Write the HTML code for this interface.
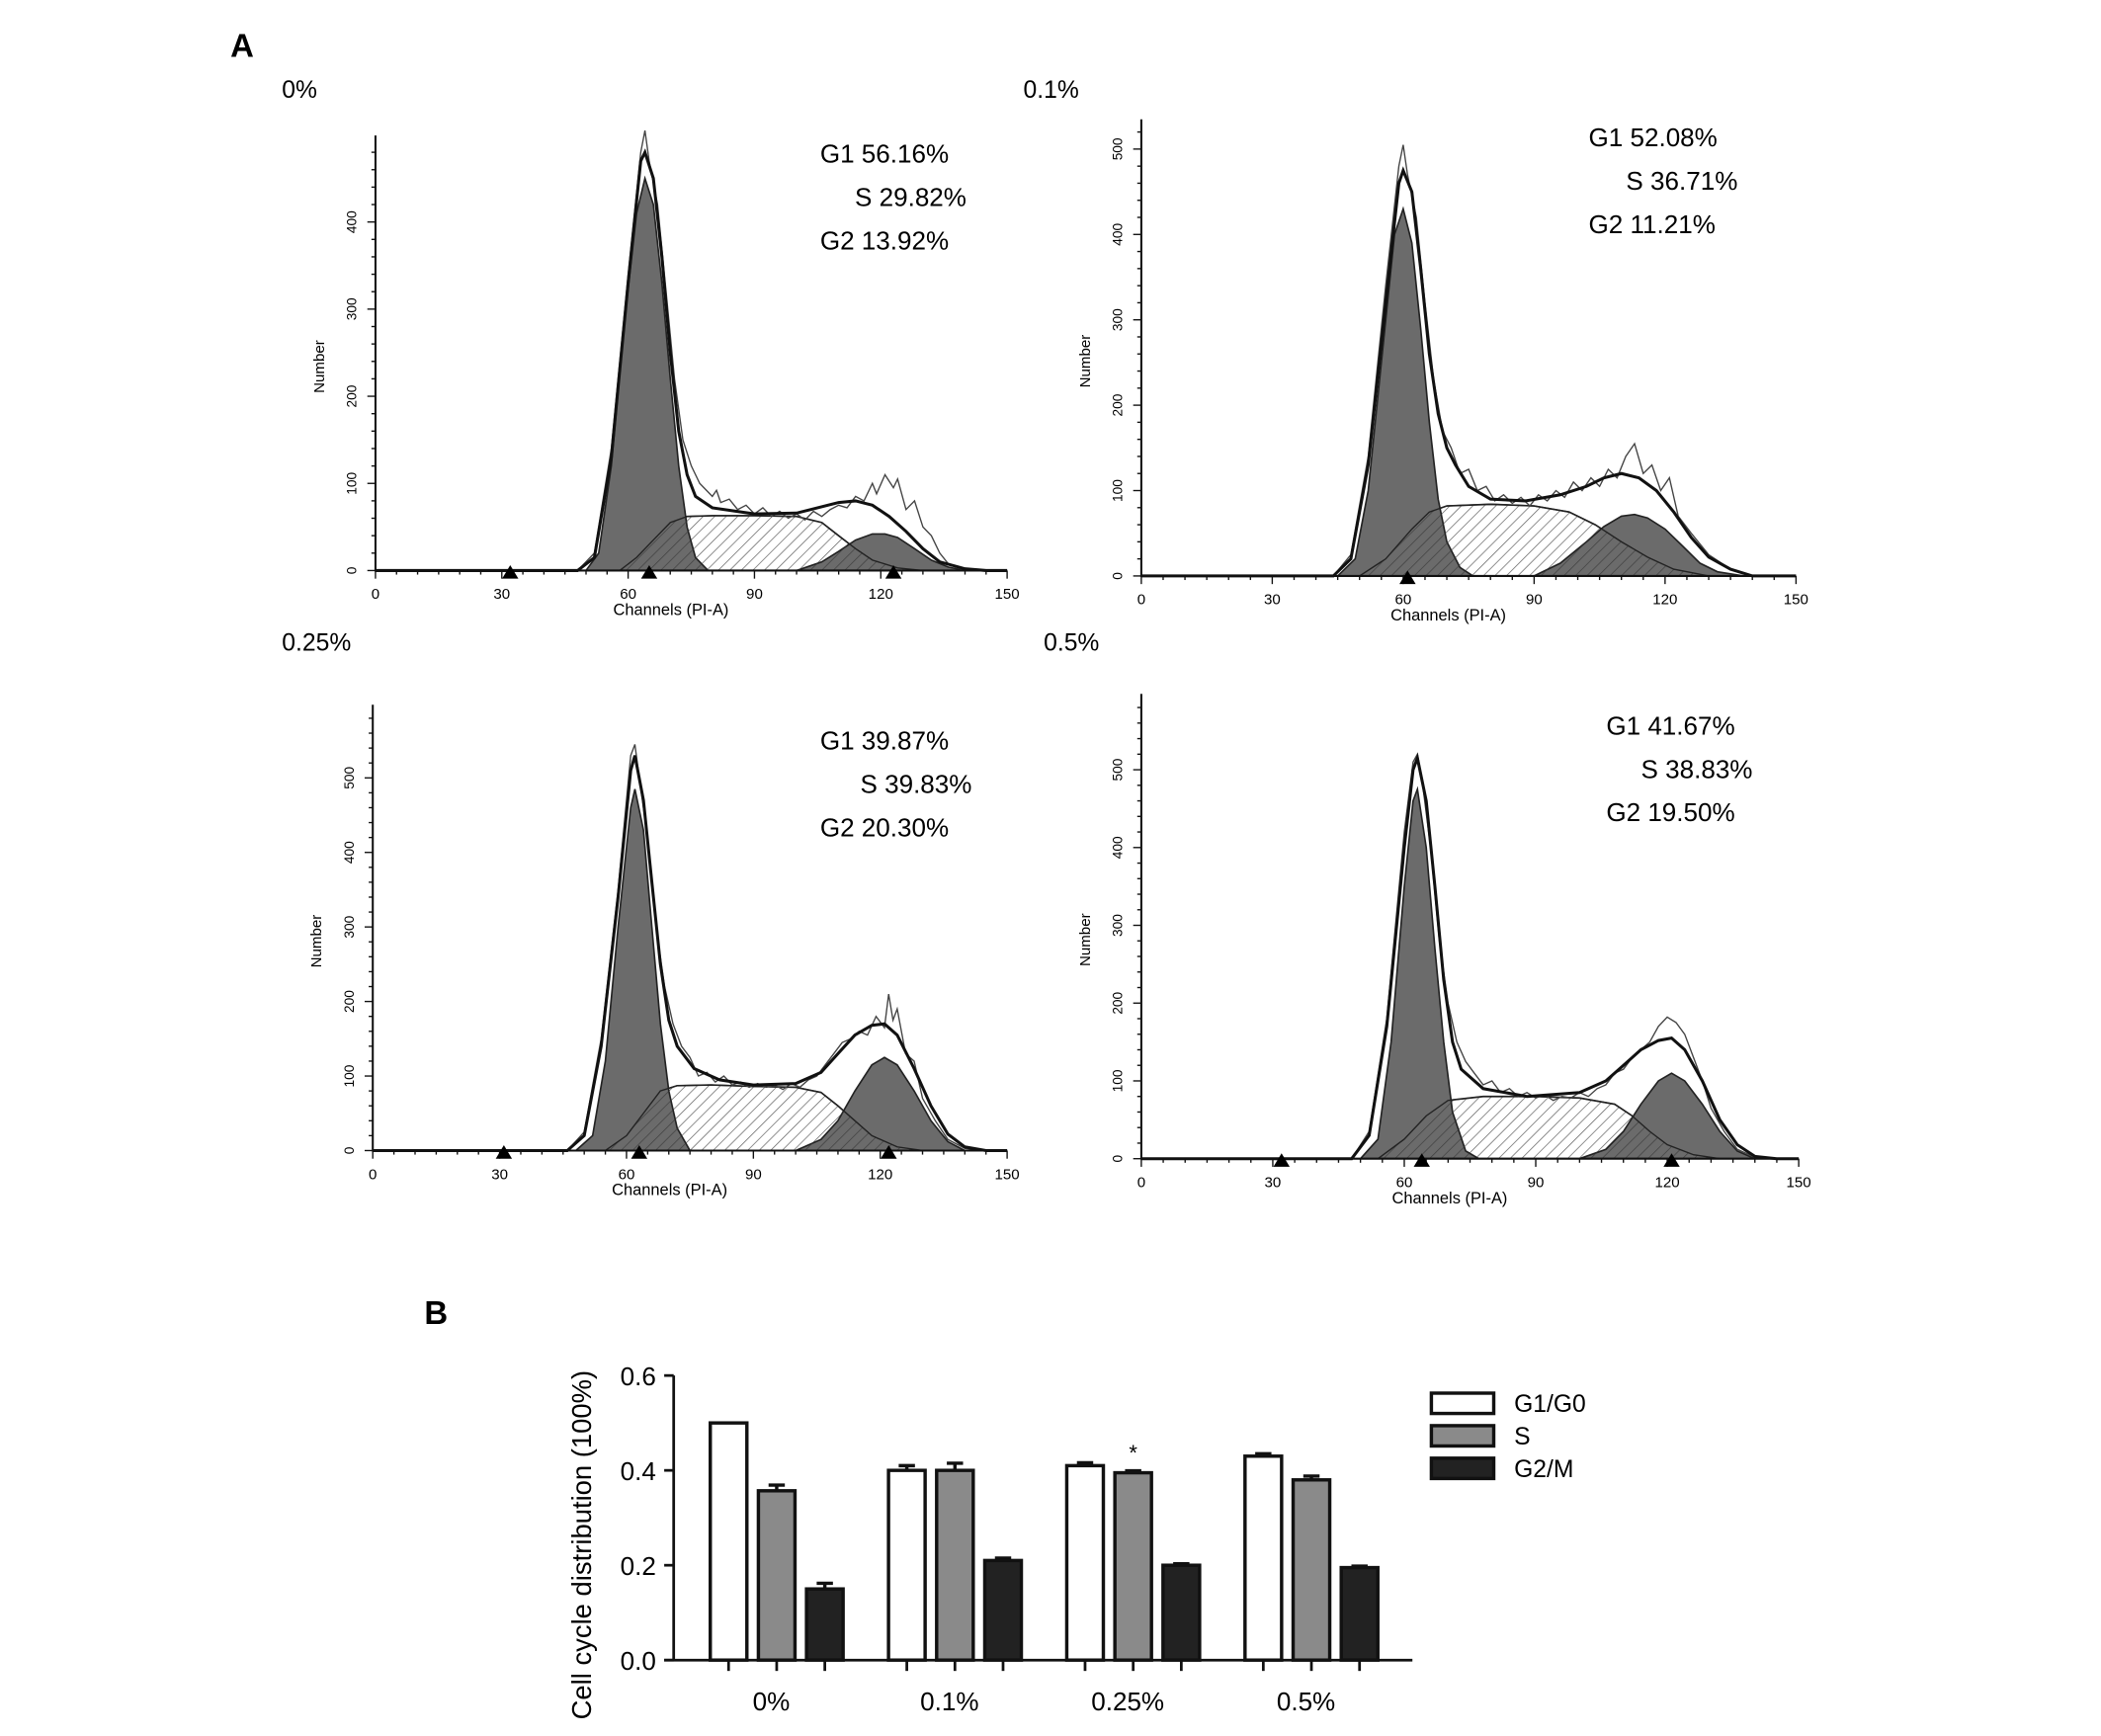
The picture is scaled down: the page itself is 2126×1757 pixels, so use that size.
<!DOCTYPE html>
<html><head><meta charset="utf-8">
<style>
html,body{margin:0;padding:0;background:#fff;}
svg{display:block;}
text{font-family:"Liberation Sans",sans-serif;}
</style></head>
<body>
<svg id="fig" width="2126" height="1757" viewBox="0 0 1550 1281" xmlns="http://www.w3.org/2000/svg">
<defs>
<pattern id="hatch" patternUnits="userSpaceOnUse" width="6" height="6" patternTransform="rotate(45)">
<line x1="0" y1="0" x2="0" y2="6" stroke="#333" stroke-width="1"/>
</pattern>
</defs>
<text x="170" y="42" font-family="Liberation Serif" font-weight="bold" font-size="24">A</text>
<text x="313" y="977" font-family="Liberation Serif" font-weight="bold" font-size="24">B</text>
<g id="hists"></g>
<g id="bars"></g>
</svg>
<script>
const NS='http://www.w3.org/2000/svg';
function mk(parent,tag,attrs,txt){const e=document.createElementNS(NS,tag);for(const k in attrs)e.setAttribute(k,attrs[k]);if(txt!==undefined)e.textContent=txt;parent.appendChild(e);return e;}

// ---------- Histogram data (channel, count) ----------
const panelTitles=['0%','0.1%','0.25%','0.5%'];
const g1Text=['G1 56.16%','G1 52.08%','G1  39.87%','G1 41.67%'];
const sText=['S  29.82%','S  36.71%','S  39.83%','S  38.83%'];
const g2Text=['G2 13.92%','G2 11.21%','G2  20.30%','G2 19.50%'];
const yTickMax=[400,500,500,500];
const markers=[[32,65,123],[61],[31,63,122],[32,64,121]];

const g1Pts=[
[[50,0],[53,20],[56,120],[59,280],[62,410],[64,450],[66,420],[68,330],[70,220],[72,120],[74,50],[76,15],[79,0]],
[[45,0],[49,20],[52,100],[55,250],[58,400],[60,430],[62,390],[64,290],[66,180],[68,90],[70,40],[73,10],[76,0]],
[[48,0],[52,20],[55,120],[58,300],[61,460],[62,485],[64,430],[66,300],[68,170],[70,80],[72,30],[75,0]],
[[50,0],[54,25],[57,150],[60,350],[62,460],[63,475],[65,400],[67,270],[69,150],[71,60],[74,10],[77,0]]];
const sPts=[
[[58,0],[62,15],[66,35],[70,55],[74,62],[80,63],[90,63],[100,62],[106,55],[110,40],[114,25],[118,12],[124,3],[130,0]],
[[50,0],[56,20],[62,55],[66,75],[70,82],[80,84],[90,82],[98,75],[104,60],[110,40],[116,22],[122,8],[130,0]],
[[55,0],[60,20],[64,50],[68,80],[72,87],[80,88],[90,86],[100,85],[106,78],[110,60],[114,40],[118,20],[124,5],[130,0]],
[[54,0],[60,25],[65,55],[70,75],[78,80],[90,80],[100,78],[108,70],[112,55],[116,35],[120,18],[126,5],[132,0]]];
const g2Pts=[
[[100,0],[106,10],[110,22],[114,35],[118,42],[121,42],[124,38],[128,25],[132,12],[136,4],[140,0]],
[[90,0],[96,15],[102,40],[106,58],[110,70],[113,72],[116,68],[120,55],[124,35],[128,15],[132,5],[138,0]],
[[100,0],[106,15],[110,40],[114,80],[118,115],[121,125],[124,115],[128,80],[132,40],[136,12],[140,0]],
[[100,0],[106,12],[110,35],[114,70],[118,100],[121,110],[124,100],[128,70],[132,35],[136,10],[140,0]]];
const fitPts=[
[[0,0],[48,0],[52,15],[56,130],[60,330],[63,470],[64,480],[66,450],[68,360],[70,250],[72,160],[74,110],[76,85],[80,72],[90,65],[100,66],[105,72],[110,78],[114,80],[118,75],[122,62],[126,45],[130,25],[134,10],[140,2],[145,0],[150,0]],
[[0,0],[44,0],[48,20],[52,130],[56,320],[59,460],[60,475],[62,450],[64,360],[66,260],[68,190],[70,150],[72,130],[75,105],[80,90],[88,88],[96,95],[102,105],[106,115],[110,120],[114,115],[118,100],[122,75],[126,45],[130,22],[135,8],[140,0],[150,0]],
[[0,0],[46,0],[50,20],[54,140],[58,340],[61,510],[62,530],[64,470],[66,360],[68,250],[70,175],[72,140],[76,110],[82,95],[90,88],[100,90],[106,105],[110,130],[114,155],[118,168],[121,170],[124,155],[128,110],[132,60],[136,22],[140,5],[145,0],[150,0]],
[[0,0],[48,0],[52,30],[56,170],[60,400],[62,500],[63,515],[65,460],[67,350],[69,230],[71,150],[73,115],[78,90],[88,80],[100,85],[106,100],[110,120],[114,140],[118,152],[121,155],[124,140],[128,100],[132,50],[136,18],[140,3],[145,0],[150,0]]];
const rawPts=[
[[48,0],[52,20],[56,140],[60,340],[63,480],[64,505],[65,470],[67,420],[69,320],[71,220],[73,150],[75,120],[77,100],[78,95],[80,85],[81,92],[82,78],[84,82],[86,70],[88,75],[90,65],[92,72],[94,62],[96,68],[98,60],[100,65],[102,58],[104,68],[106,62],[108,70],[110,75],[112,72],[114,85],[116,80],[118,100],[119,88],[121,110],[123,95],[124,105],[126,70],[128,80],[130,50],[132,40],[134,20],[136,8],[140,0]],
[[44,0],[48,25],[52,140],[56,340],[59,480],[60,505],[61,470],[63,420],[65,320],[67,230],[69,170],[71,150],[73,120],[75,125],[77,100],[79,105],[81,88],[83,95],[85,85],[87,92],[89,82],[91,95],[93,88],[95,100],[97,92],[99,110],[101,100],[103,115],[105,105],[107,125],[109,115],[111,140],[113,155],[115,120],[117,130],[119,100],[121,115],[123,70],[126,50],[130,25],[135,8],[140,0]],
[[46,0],[50,25],[54,150],[58,350],[61,530],[62,545],[63,500],[65,420],[67,300],[69,220],[71,170],[73,140],[75,125],[77,100],[79,105],[81,92],[83,100],[85,88],[87,92],[89,85],[91,90],[93,85],[95,88],[97,82],[99,90],[101,85],[103,95],[105,100],[107,115],[109,130],[111,145],[113,150],[115,160],[117,155],[119,180],[121,165],[122,210],[123,175],[124,190],[126,130],[128,120],[130,70],[133,40],[136,15],[140,3],[145,0]],
[[48,0],[52,35],[56,180],[60,420],[62,510],[63,520],[64,490],[66,400],[68,280],[70,200],[72,150],[74,125],[76,110],[78,95],[80,100],[82,85],[84,90],[86,80],[88,85],[90,78],[92,82],[94,75],[96,80],[98,78],[100,85],[102,80],[104,90],[106,95],[108,110],[110,115],[112,130],[114,140],[116,150],[118,170],[120,182],[122,175],[124,160],[126,130],[128,100],[130,65],[133,35],[136,12],[140,2],[145,0]]];

// layout per panel (pixel geometry, not data)
const layout=[
 {x0:277,x1:743,y0:421,pxPer100:64.3,top:100,title:[208,72],txt:[605,120,713]},
 {x0:842,x1:1325,y0:425,pxPer100:63,top:88,title:[755,72],txt:[1172,108,1282]},
 {x0:275,x1:743,y0:849,pxPer100:55,top:520,title:[208,480],txt:[605,553,717]},
 {x0:842,x1:1327,y0:855,pxPer100:57.4,top:512,title:[770,480],txt:[1185,542,1293]}];

const H=document.getElementById('hists');
for(let p=0;p<4;p++){
  const L=layout[p];
  const sx=c=>L.x0+(L.x1-L.x0)*c/150;
  const sy=v=>L.y0-v*L.pxPer100/100;
  const g=mk(H,'g',{});
  
  
  const pathOf=(pts,close)=>pts.map((q,i)=>(i?'L':'M')+sx(q[0]).toFixed(1)+' '+sy(q[1]).toFixed(1)).join(' ')+(close?' Z':'');
  const sW=mk(g,'path',{d:pathOf(sPts[p],true),fill:'#fff',stroke:'#222','stroke-width':1.2});
  
  
  const a1=mk(g,'path',{d:pathOf(g1Pts[p],true),fill:'#6b6b6b',stroke:'#222','stroke-width':1.2});
  
  
  const a2=mk(g,'path',{d:pathOf(g2Pts[p],true),fill:'#6b6b6b',stroke:'#222','stroke-width':1.2});
  
  
  const sh=mk(g,'path',{d:pathOf(sPts[p],true),fill:'url(#hatch)',stroke:'#222','stroke-width':1,'fill-opacity':0.8});
  
  
  const rw=mk(g,'path',{d:pathOf(rawPts[p],false),fill:'none',stroke:'#444','stroke-width':1});
  
  
  const ft=mk(g,'path',{d:pathOf(fitPts[p],false),fill:'none',stroke:'#111','stroke-width':2.2});
  
  
  // axes
  const ax=mk(g,'path',{d:`M${L.x0} ${L.top} L${L.x0} ${L.y0} L${L.x1} ${L.y0}`,fill:'none',stroke:'#111','stroke-width':1.5});
  
  
  for(let c=0;c<=150;c+=5){
    mk(g,'line',{x1:sx(c),x2:sx(c),y1:L.y0,y2:L.y0+(c%30===0?6:3),stroke:'#111','stroke-width':1});
    if(c%30===0){const t=mk(g,'text',{x:sx(c),y:L.y0+21,'text-anchor':'middle','font-size':11},String(c));
      
      }
  }
  for(let v=0;v*L.pxPer100/100<=L.y0-L.top;v+=20){
    mk(g,'line',{x1:L.x0-(v%100===0?6:3),x2:L.x0,y1:sy(v),y2:sy(v),stroke:'#111','stroke-width':1});
    if(v%100===0&&v<=yTickMax[p]){const t=mk(g,'text',{x:L.x0-14,y:sy(v),'text-anchor':'middle','font-size':10,transform:`rotate(-90 ${L.x0-14} ${sy(v)})`},String(v));
      
      }
  }
  markers[p].forEach(c=>{const m=mk(g,'path',{d:`M${sx(c)-6} ${L.y0+6} L${sx(c)} ${L.y0-4} L${sx(c)+6} ${L.y0+6} Z`,fill:'#000'});
    
    });
  const xt=mk(g,'text',{x:(L.x0+L.x1)/2-15,y:L.y0+33,'text-anchor':'middle','font-size':12},'Channels (PI-A)');
  
  
  const yx=L.x0-38,yy=(L.y0+L.top)/2+10;
  const yt=mk(g,'text',{x:yx,y:yy,'text-anchor':'middle','font-size':11,transform:`rotate(-90 ${yx} ${yy})`},'Number');
  
  
  const tt=mk(g,'text',{x:L.title[0],y:L.title[1],'font-size':18},panelTitles[p]);
  
  
  [[g1Text[p],0],[sText[p],32],[g2Text[p],64]].forEach(([s,dy],i)=>{
    const t=mk(g,'text',{x:i===1?L.txt[2]:L.txt[0],y:L.txt[1]+dy,'font-size':19,'text-anchor':i===1?'end':'start','xml:space':'preserve'},s);
    
    
  });
}

// ---------- Bar chart ----------
const categories=['0%','0.1%','0.25%','0.5%'];
const seriesNames=['G1/G0','S','G2/M'];
const g1Vals=[0.50,0.40,0.41,0.43];
const sVals=[0.357,0.40,0.395,0.38];
const g2Vals=[0.15,0.21,0.20,0.195];
const g1Err=[0,0.01,0.006,0.005];
const sErr=[0.012,0.015,0.004,0.008];
const g2Err=[0.012,0.005,0.003,0.003];
const yTicks=[0.0,0.2,0.4,0.6];
const yTickLabels=['0.0','0.2','0.4','0.6'];

const B=document.getElementById('bars');
const by0=1225, byPer=350;
const byS=v=>by0-v*byPer;
const bx=(gi,si)=>524+gi*131.5+si*35.5;
const bw=27;
const fills=['#fff','#8a8a8a','#222'];
const vals=[g1Vals,sVals,g2Vals], errs=[g1Err,sErr,g2Err];
const bax=mk(B,'path',{d:`M497 1015 L497 ${by0} M490 ${by0} L1042 ${by0}`,fill:'none',stroke:'#111','stroke-width':2});


yTicks.forEach((v,i)=>{
  mk(B,'line',{x1:490,x2:497,y1:byS(v),y2:byS(v),stroke:'#111','stroke-width':2});
  const t=mk(B,'text',{x:484,y:byS(v)+7,'text-anchor':'end','font-size':19},yTickLabels[i]);
  
  
});
const yt2=mk(B,'text',{x:0,y:0,'text-anchor':'middle','font-size':20,transform:'translate(436 1140) rotate(-90)'},'Cell cycle distribution (100%)');


categories.forEach((c,gi)=>{
  for(let si=0;si<3;si++){
    const v=vals[si][gi],e=errs[si][gi],x=bx(gi,si);
    if(e>0){
      const eb=mk(B,'path',{d:`M${x+bw/2} ${byS(v)} L${x+bw/2} ${byS(v+e)} M${x+bw/2-6} ${byS(v+e)} L${x+bw/2+6} ${byS(v+e)}`,stroke:'#111','stroke-width':2.5,fill:'none'});
      
      
    }
    const r=mk(B,'rect',{x:x,y:byS(v),width:bw,height:v*byPer,fill:fills[si],stroke:'#111','stroke-width':2.5});
    
    
    mk(B,'line',{x1:x+bw/2,x2:x+bw/2,y1:by0,y2:by0+8,stroke:'#111','stroke-width':2});
  }
  const t=mk(B,'text',{x:bx(gi,1)+bw/2-4,y:1262,'text-anchor':'middle','font-size':19},c);
  
  
});
const star=mk(B,'text',{x:bx(2,1)+bw/2,y:byS(sVals[2])-9,'text-anchor':'middle','font-size':16},'*');


seriesNames.forEach((n,i)=>{
  const y=1028+i*24;
  const r=mk(B,'rect',{x:1056,y:y,width:46,height:15,fill:fills[i],stroke:'#111','stroke-width':2.5});
  
  
  const t=mk(B,'text',{x:1117,y:y+14,'font-size':18},n);
  
  
});
</script>
</body></html>
